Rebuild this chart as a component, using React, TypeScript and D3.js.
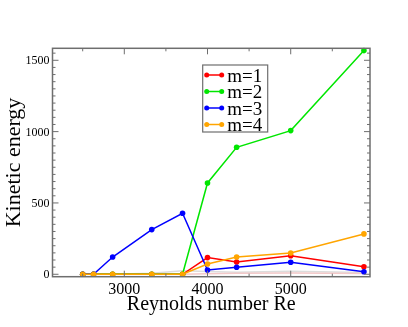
import { useEffect, useRef } from "react";
import * as d3 from "d3";

// Reynolds numbers (x)
const reynolds = [2500, 2630, 2860, 3330, 3700, 4000, 4350, 5000, 5880];

// kinetic energy per mode
const m1 = [0, 0, 0, 0, 0, 117, 86, 130, 53];
const m2 = [0, 0, 0, 0, 0, 640, 890, 1007, 1568];
const m3 = [0, 0, 121, 313, 428, 30, 49, 84, 18];
const m4 = [0, 0, 0, 0, 0, 72, 121, 149, 283];
// faint modes not in the legend
const m5 = [0, 0, 0, 8, 25, 20, 15, 22, 12];
const m6 = [0, 0, 0, 0, 0, 4, 7, 9, 5];

const xTicks = [3000, 4000, 5000];
const yTicks = [0, 500, 1000, 1500];

const series = [
  { name: "m=5", values: m5, color: "#dcdcdc", legend: false, marker: false },
  { name: "m=6", values: m6, color: "#f2c8c8", legend: false, marker: false },
  { name: "m=1", values: m1, color: "#ff0000", legend: true, marker: true },
  { name: "m=2", values: m2, color: "#00e600", legend: true, marker: true },
  { name: "m=3", values: m3, color: "#0000ff", legend: true, marker: true },
  { name: "m=4", values: m4, color: "#ffa500", legend: true, marker: true },
];

const App = () => {
  const svgRef = useRef<SVGSVGElement>(null);

  useEffect(() => {
    if (!svgRef.current) return;
    const svg = d3.select(svgRef.current);
    svg.selectAll("*").remove();

    const width = 408;
    const height = 327;
    const left = 52.5, right = 370, top = 48.3, bottom = 276.7;
    const font = "'Liberation Serif', 'Times New Roman', serif";
    const frameColor = "#6e6e6e";

    const x = d3.scaleLinear().domain([2137, 5953]).range([left, right]);
    const y = d3.scaleLinear().domain([-17, 1584]).range([bottom, top]);

    svg.attr("width", width).attr("height", height);

    // 데이터 선과 점
    const line = d3
      .line<number>()
      .x((_, i) => x(reynolds[i]))
      .y((d) => y(d));

    const plot = svg.append("g");
    series.forEach((s) => {
      plot
        .append("path")
        .attr("d", line(s.values))
        .attr("fill", "none")
        .attr("stroke", s.color)
        .attr("stroke-width", 1.5);
      if (s.marker) {
        plot
          .selectAll(null)
          .data(s.values)
          .enter()
          .append("circle")
          .attr("cx", (_, i) => x(reynolds[i]))
          .attr("cy", (d) => y(d))
          .attr("r", 2.8)
          .attr("fill", s.color);
      }
    });

    // frame
    svg
      .append("rect")
      .attr("x", left)
      .attr("y", top)
      .attr("width", right - left)
      .attr("height", bottom - top)
      .attr("fill", "none")
      .attr("stroke", frameColor)
      .attr("stroke-width", 1.5);

    // ticks (inward, on all sides)
    const ticks = svg.append("g").attr("stroke", frameColor).attr("stroke-width", 1);
    const xMinor = d3.range(2500, 5951, 500);
    xMinor.forEach((v) => {
      const len = v % 1000 === 0 ? 6 : 3;
      ticks.append("line").attr("x1", x(v)).attr("x2", x(v)).attr("y1", bottom).attr("y2", bottom - len);
      ticks.append("line").attr("x1", x(v)).attr("x2", x(v)).attr("y1", top).attr("y2", top + len);
    });
    const yMinor = d3.range(0, 1584, 50);
    yMinor.forEach((v) => {
      const len = v % 500 === 0 ? 6 : 3;
      ticks.append("line").attr("x1", left).attr("x2", left + len).attr("y1", y(v)).attr("y2", y(v));
      ticks.append("line").attr("x1", right).attr("x2", right - len).attr("y1", y(v)).attr("y2", y(v));
    });

    // tick labels
    svg
      .selectAll(".x-label")
      .data(xTicks)
      .enter()
      .append("text")
      .attr("x", (d) => x(d))
      .attr("y", 293.5)
      .attr("text-anchor", "middle")
      .style("font-family", font)
      .style("font-size", "16px")
      .text((d) => d);

    svg
      .selectAll(".y-label")
      .data(yTicks)
      .enter()
      .append("text")
      .attr("x", 49.5)
      .attr("y", (d) => y(d) + 4)
      .attr("text-anchor", "end")
      .style("font-family", font)
      .style("font-size", "12px")
      .text((d) => d);

    // axis titles
    svg
      .append("text")
      .attr("x", (left + right) / 2)
      .attr("y", 310)
      .attr("text-anchor", "middle")
      .style("font-family", font)
      .style("font-size", "20px")
      .text("Reynolds number Re");

    svg
      .append("text")
      .attr("transform", `translate(20, ${(top + bottom) / 2}) rotate(-90)`)
      .attr("text-anchor", "middle")
      .style("font-family", font)
      .style("font-size", "22px")
      .text("Kinetic energy");

    // legend
    const lg = svg.append("g").attr("transform", "translate(202.7, 65)");
    lg.append("rect")
      .attr("width", 65)
      .attr("height", 67)
      .attr("fill", "white")
      .attr("stroke", frameColor)
      .attr("stroke-width", 1.2);
    const items = lg
      .selectAll(".legend-item")
      .data(series.filter((s) => s.legend))
      .enter()
      .append("g")
      .attr("transform", (_, i) => `translate(0, ${10 + i * 16.5})`);
    items
      .append("line")
      .attr("x1", 4)
      .attr("x2", 19)
      .attr("stroke", (d) => d.color)
      .attr("stroke-width", 1.5);
    [4, 19].forEach((cx) => {
      items.append("circle").attr("cx", cx).attr("r", 2.5).attr("fill", (d) => d.color);
    });
    items
      .append("text")
      .attr("x", 24.5)
      .attr("y", 6.5)
      .style("font-family", font)
      .style("font-size", "19px")
      .text((d) => d.name);
  }, []);

  return (
    <div style={{ position: "fixed", left: 0, top: 0 }}>
      <svg ref={svgRef}></svg>
    </div>
  );
};

export default App;
